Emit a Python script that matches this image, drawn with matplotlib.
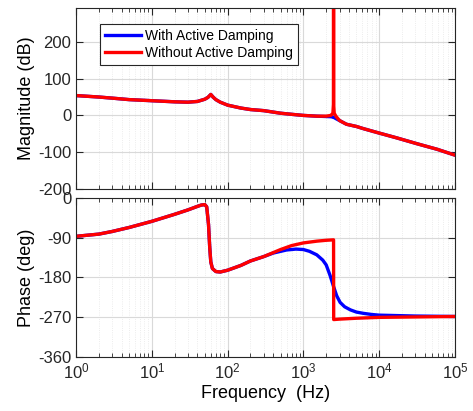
import numpy as np
import matplotlib.pyplot as plt
from matplotlib.ticker import LogLocator, NullFormatter

plt.rcParams['font.family'] = ['Liberation Sans', 'DejaVu Sans']
plt.rcParams['axes.unicode_minus'] = False

# magnitude (dB)
mag_freq = [1, 2, 3, 5, 10, 20, 30, 40, 50, 55, 60, 65, 70, 80, 100, 150, 200, 300, 500,
            700, 1000, 1500, 2000, 2300, 2450, 2490, 2500, 2510, 2550, 2700, 3000, 3700,
            5000, 6200, 10000, 17000, 31600, 58000, 100000]
mag_with = [54, 50, 47, 43, 40, 37, 36, 38, 44, 49, 57, 49, 43, 36, 28, 20, 16, 13, 6,
            3, 0, -2, -3, -3.5, -4.5, -5, -5, -5.5, -6, -9, -14, -24,
            -30, -36, -48, -61, -77, -92, -108]
mag_without = [54, 50, 47, 43, 40, 37, 36, 38, 44, 49, 57, 49, 43, 36, 28, 20, 16, 13, 6,
               3, 0, -2, -2, 0, 6, 30, 420, 30, 6, -3, -14, -24,
               -30, -36, -48, -61, -77, -92, -108]

# phase (deg)
ph_freq_w = [1, 2, 3, 5, 10, 20, 30, 40, 45, 50, 53, 56, 58, 60, 63, 70, 80, 100, 150,
             200, 300, 400, 600, 800, 1000, 1200, 1500, 1800, 2000, 2250, 2500, 2750,
             3050, 3500, 4170, 5000, 6240, 8000, 10000, 30000, 100000]
ph_with = [-87, -82, -76, -67, -53, -37, -27, -19, -16, -15, -20, -60, -110, -145, -160,
           -167, -168, -164, -153, -143, -133, -125, -118, -116, -117, -121, -129, -141,
           -152, -176, -201, -222, -237, -247, -254, -259, -262, -264.5, -266, -268, -269]
ph_freq_wo = [1, 2, 3, 5, 10, 20, 30, 40, 45, 50, 53, 56, 58, 60, 63, 70, 80, 100, 150,
              200, 300, 500, 700, 1000, 1500, 2000, 2500, 2510, 3000, 5000, 10000, 100000]
ph_without = [-87, -82, -76, -67, -53, -37, -27, -19, -16, -15, -20, -60, -110, -145, -160,
              -167, -168, -164, -153, -143, -133, -117, -108, -102, -98, -96, -95, -276,
              -275, -273, -271, -269]

fig = plt.figure(figsize=(4.73, 4.11), dpi=100)
ax1 = fig.add_axes([76/473, 1-189/411, 379/473, 181/411])
ax2 = fig.add_axes([76/473, 1-357/411, 379/473, 159/411])

blue = '#0000ff'
red = '#ff0000'
ax1.semilogx(mag_freq, mag_with, color=blue, lw=2.4, label='With Active Damping')
ax1.semilogx(mag_freq, mag_without, color=red, lw=2.4, label='Without Active Damping')
ax2.semilogx(ph_freq_w, ph_with, color=blue, lw=2.4)
ax2.semilogx(ph_freq_wo, ph_without, color=red, lw=2.4)

ax1.set_ylim(-200, 292)
ax1.set_yticks([-200, -100, 0, 100, 200])
ax2.set_ylim(-361, 0)
ax2.set_yticks([-360, -270, -180, -90, 0])

for ax in (ax1, ax2):
    ax.set_xlim(1, 1e5)
    ax.xaxis.set_major_locator(LogLocator(base=10, numticks=10))
    ax.xaxis.set_minor_locator(LogLocator(base=10, subs=np.arange(2, 10), numticks=20))
    ax.xaxis.set_minor_formatter(NullFormatter())
    ax.grid(True, which='major', color='#d9d9d9', lw=0.8)
    ax.grid(True, which='minor', axis='x', color='#e6e6e6', lw=0.6, ls=':')
    ax.tick_params(which='both', direction='in', top=True, right=True, labelsize=12,
                   colors='#262626')
    ax.tick_params(which='major', length=5)
    ax.tick_params(which='minor', length=3)
    for s in ax.spines.values():
        s.set_color('#262626')
        s.set_linewidth(0.8)
    ax.set_axisbelow(True)

ax1.tick_params(labelbottom=False)
ax1.set_ylabel('Magnitude (dB)', fontsize=13, labelpad=2)
ax2.set_ylabel('Phase (deg)', fontsize=13, labelpad=2)
ax2.set_xlabel('Frequency  (Hz)', fontsize=13, labelpad=2)

leg = ax1.legend(loc='upper left', bbox_to_anchor=(0.063, 0.912), borderaxespad=0,
                 fontsize=10, fancybox=False, edgecolor='#262626', framealpha=1,
                 handlelength=2.6, borderpad=0.35, labelspacing=0.25, handletextpad=0.3)
leg.get_frame().set_linewidth(0.8)

fig.savefig('out.png', dpi=100)
